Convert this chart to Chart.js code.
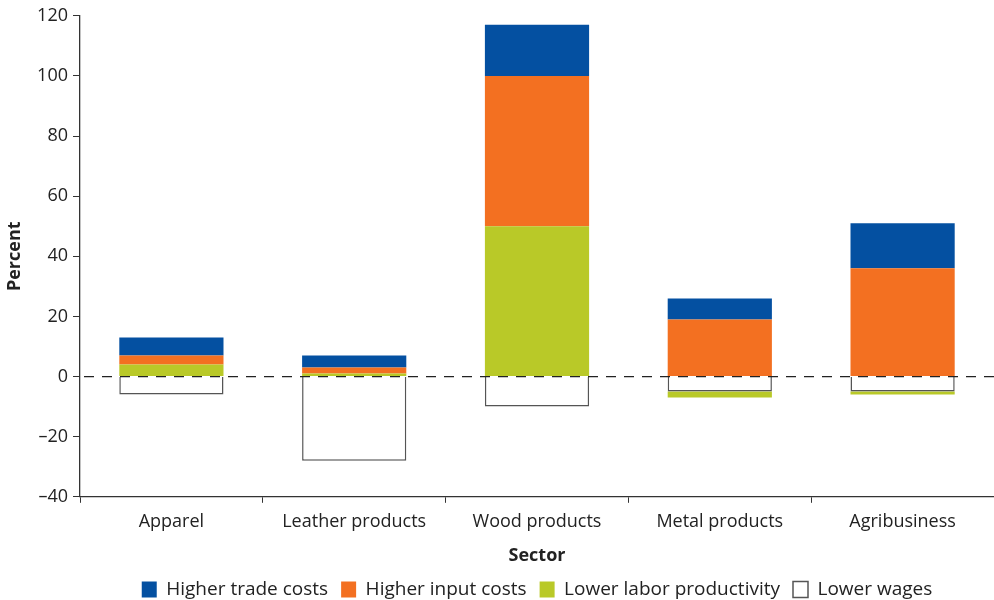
<!DOCTYPE html>
<html>
<head>
<meta charset="utf-8">
<script src="https://cdn.jsdelivr.net/npm/chart.js@4.4.1/dist/chart.umd.min.js"></script>
<style>
  html, body { margin: 0; padding: 0; background: #fff; }
  #wrap { width: 994px; height: 600px; }
</style>
</head>
<body>
<div id="wrap"><canvas id="chart"></canvas></div>
<script>
var sectors = ["Apparel", "Leather products", "Wood products", "Metal products", "Agribusiness"];
var tradeCosts = [6, 4, 17, 7, 15];
var inputCosts = [3, 2, 50, 19, 36];
var laborProd = [4, 1, 50, -2, -1];
var lowerWages = [-6, -28, -10, -5, -5];
var yTicks = [-40, -20, 0, 20, 40, 60, 80, 100, 120];

var fontFam = "'Open Sans', 'Noto Sans', sans-serif";

// dashed line through zero, drawn over the bars
var zeroLine = {
  id: 'zeroLine',
  afterDatasetsDraw: function(chart) {
    var y = chart.scales.y.getPixelForValue(0);
    var area = chart.chartArea;
    var ctx = chart.ctx;
    ctx.save();
    ctx.strokeStyle = '#222';
    ctx.lineWidth = 1.3;
    ctx.setLineDash([10, 8]);
    ctx.beginPath();
    ctx.moveTo(area.left + 4, y);
    ctx.lineTo(area.right, y);
    ctx.stroke();
    ctx.restore();
  }
};

// negatives stack in array order, so wages sit next to zero
var chart = new Chart(document.getElementById('chart'), {
  type: 'bar',
  data: {
    labels: sectors,
    datasets: [
      { label: 'Lower wages', data: lowerWages, backgroundColor: '#ffffff', borderColor: '#555', borderWidth: 1.5 },
      { label: 'Lower labor productivity', data: laborProd, backgroundColor: '#b9c928' },
      { label: 'Higher input costs', data: inputCosts, backgroundColor: '#f37021' },
      { label: 'Higher trade costs', data: tradeCosts, backgroundColor: '#0450a1' }
    ]
  },
  options: {
    responsive: true,
    maintainAspectRatio: false,
    animation: false,
    layout: { padding: { top: 7, right: 0, left: 4, bottom: -9 } },
    datasets: { bar: { categoryPercentage: 1, barPercentage: 0.57 } },
    plugins: {
      tooltip: { enabled: false },
      legend: {
        position: 'bottom',
        fullSize: false,
        reverse: true,
        labels: {
          boxWidth: 15, boxHeight: 16, padding: 13,
          color: '#222',
          font: { family: fontFam, size: 19 }
        }
      }
    },
    scales: {
      x: {
        stacked: true,
        grid: { display: true, drawOnChartArea: false, tickLength: 6, color: '#333', offset: true },
        border: { color: '#333', width: 1.3 },
        ticks: { color: '#222', padding: 8, font: { family: fontFam, size: 18 } },
        title: { display: true, text: 'Sector', color: '#222', padding: { top: 5, bottom: 0 }, font: { family: fontFam, size: 18, weight: 'bold' } }
      },
      y: {
        stacked: true,
        min: -40, max: 120,
        afterBuildTicks: function(scale) {
          scale.ticks = yTicks.map(function(v) { return { value: v }; });
        },
        afterFit: function(scale) { scale.width = 76; },
        grid: { display: true, drawOnChartArea: false, tickLength: 7, color: '#333' },
        border: { color: '#333', width: 1.3 },
        ticks: {
          color: '#222', padding: 5,
          font: { family: fontFam, size: 18 },
          callback: function(v) { return String(v).replace('-', '\u2013'); }
        },
        title: { display: true, text: 'Percent', color: '#222', padding: 0, font: { family: fontFam, size: 18, weight: 'bold' } }
      }
    }
  },
  plugins: [zeroLine]
});
</script>
</body>
</html>
